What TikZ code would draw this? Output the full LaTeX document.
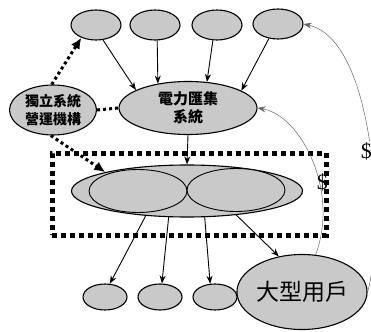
\documentclass[tikz,border=0pt]{standalone}
\usepackage{fontspec}
\setmainfont{Liberation Serif}
\newfontfamily\cjk{Noto Sans CJK TC}
\usetikzlibrary{shapes.geometric,arrows.meta}

\begin{document}
\begin{tikzpicture}[
        x=1pt, y=-1pt,
        every node/.style={font=\cjk},
        blob/.style={ellipse, draw=black, line width=1.1pt, fill=gray!42, inner sep=0pt, align=center},
        small/.style={blob, minimum width=50pt, minimum height=30pt},
        tiny/.style={blob, minimum width=44pt, minimum height=26pt},
        half/.style={blob, line width=0.9pt, minimum width=98pt, minimum height=43pt},
        zone/.style={rectangle, draw=black, line width=5pt, dash pattern=on 5pt off 4pt, minimum width=274pt, minimum height=82pt, inner sep=0pt},
        arrow/.style={-{Stealth[length=8pt,width=6pt]}, line width=0.9pt, draw=black},
        dotarrow/.style={-{Latex[length=11pt,width=10pt]}, line width=3pt, dash pattern=on 3pt off 3pt},
        dotline/.style={line width=3pt, dash pattern=on 3pt off 3pt},
        money/.style={-{Stealth[length=8pt,width=6pt]}, line width=0.5pt, draw=gray!80!black},
        dollar/.style={font=\rmfamily\fontsize{22}{22}\selectfont, inner sep=1pt},
    ]
        \useasboundingbox (0,0) rectangle (371,331);

        % upper row
        \node[small] (gen1) at (96,25) {};
        \node[small] (gen2) at (155,25) {};
        \node[small] (gen3) at (217,25) {};
        \node[small] (gen4) at (278,24) {};

        \node[blob, minimum width=138pt, minimum height=53pt, font=\cjk\bfseries\fontsize{15}{18}\selectfont] (pool) at (188,108) {電力匯集\\系統};
        \node[blob, minimum width=87pt, minimum height=50pt, font=\cjk\bfseries\fontsize{14}{18}\selectfont] (iso) at (53,110) {獨立系統\\營運機構};

        % market inside the dotted frame
        \node[zone] (frame) at (189,194) {};
        \node[blob, minimum width=231pt, minimum height=52pt] (market) at (187,191) {};
        \node[half] (subL) at (138,191) {};
        \node[half] (subR) at (236,190) {};

        % lower row
        \node[tiny] (load1) at (105,297) {};
        \node[tiny] (load2) at (160,297) {};
        \node[tiny] (load3) at (215,297) {};
        \node[blob, minimum width=111pt, minimum height=75pt, font=\cjk\fontsize{23}{23}\selectfont] (bigload) at (302,292) {大型用戶};

        \draw[arrow] (gen1.-65) -- (pool.161);
        \draw[arrow] (gen2.-82) -- (pool.141);
        \draw[arrow] (gen3.-105) -- (pool.54);
        \draw[arrow] (gen4.-122) -- (pool.18);
        \draw[arrow] (pool.south) -- (market.north);

        \draw[arrow] (market.-149) -- (load1.70);
        \draw[arrow] (market.-125) -- (load2.82);
        \draw[arrow] (market.-56) -- (load3.110);
        \draw[arrow] (market.-26) -- (bigload.123);

        \draw[dotarrow] (iso.93) -- (gen1.-139);
        \draw[dotline] (iso.east) -- (pool.west);
        \draw[dotarrow] (iso.-95) -- (market.167);

        \draw[money] (bigload.70) .. controls (340,190) and (300,115) .. node[pos=0.37, dollar, xshift=3pt] {\$} (pool.east);
        \draw[money] (bigload.east) .. controls (385,230) and (375,40) .. node[pos=0.47, dollar, xshift=-4pt, fill=white] {\$} (gen4.east);

    \end{tikzpicture}
\end{document}
